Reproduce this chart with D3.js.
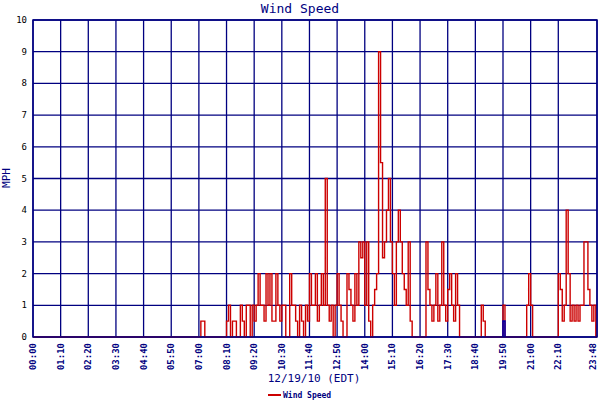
<!DOCTYPE html>
<html><head><meta charset="utf-8">
<script src="https://cdn.jsdelivr.net/npm/d3@7"></script>
<style>body{margin:0;background:#fff}text{font-family:"DejaVu Sans Mono",monospace}</style>
</head><body><svg id="c" width="600" height="400"></svg>
<script>
// 5-minute samples by hour (hours 0-6 all zero)
const startHour = 7;
const windByHour = [
 [0,0.5,0.5,0,0,0,0,0,0,0,0,0],            // 07
 [0,0,0.5,1,0,0.5,0.5,0,0,1,0.5,0],        // 08
 [1,1,0,1,0.5,1,2,1,1,0.5,2,1],            // 09
 [2,0.5,0.5,2,1,0.5,1,1,0,0,2,1],          // 10
 [1,0.5,0,1,0.5,0,1,0.5,2,1,1,2],          // 11
 [0.5,1,2,1,5,1,0.5,1,0,1,2,1],            // 12
 [0.5,0,0,2,1.5,1,0.5,2,1,3,2.5,3],        // 13
 [1,3,0.5,0,1,1.5,2,9,5.5,2.5,3,4],        // 14
 [5,3,2,1,3,4,3,2,1.5,1,3,0.5],            // 15
 [0,0,0,0,0,0,0,3,1.5,1,0.5,1],            // 16
 [2,0.5,1,3,1,0.5,1.5,2,1,0.5,2,1],        // 17
 [0,0,0,0,0,0,0,0,0,0,0,1],                // 18
 [0.5,0,0,0,0,0,0,0,0,0,1,0],              // 19
 [0,0,0,0,0,0,0,0,0,0,1,2],                // 20
 [1,0,0,0,0,0,0,0,0,0,0,0],                // 21
 [0,0,2,1.5,0.5,1,4,2,0.5,1,0.5,1],        // 22
 [0.5,1,1,3,3,1.5,1,0.5,1,0]               // 23
];
const blueTimes = [1190,1195];
const blueValues = [0.5,0];
const endMinute = 1428;
const xTicks = [0,70,140,210,280,350,420,490,560,630,700,770,840,910,980,1050,1120,1190,1260,1330,1428];
const yTicks = [0,1,2,3,4,5,6,7,8,9,10];

const wind = [{m:0,v:0}];
windByHour.forEach((arr,i)=>arr.forEach((v,j)=>wind.push({m:(startHour+i)*60+j*5,v})));
wind.push({m:endMinute,v:0});

const svg = d3.select("#c");
const L=33,R=597,T=20,B=337;
const x = d3.scaleLinear().domain([0,endMinute]).range([L,R]);
const y = d3.scaleLinear().domain([0,10]).range([B,T]);
const navy="#000080";

svg.append("text").attr("x",300).attr("y",13).attr("text-anchor","middle")
  .attr("fill",navy).attr("font-size",13).text("Wind Speed");

svg.append("g").selectAll("line").data(yTicks).join("line")
 .attr("x1",L).attr("x2",R).attr("y1",d=>y(d)).attr("y2",d=>y(d)).attr("stroke",navy).attr("stroke-width",1.3);
svg.append("g").selectAll("line").data(xTicks).join("line")
 .attr("x1",d=>x(d)).attr("x2",d=>x(d)).attr("y1",T).attr("y2",B).attr("stroke",navy).attr("stroke-width",1.3);

const line = d3.line().x(d=>x(d.m)).y(d=>y(d.v)).curve(d3.curveStepAfter);
svg.append("path").datum(wind).attr("d",line).attr("fill","none").attr("stroke","#cc0000").attr("stroke-width",1.4);
const blue = blueTimes.map((m,i)=>({m,v:blueValues[i]}));
svg.append("path").datum([{m:blueTimes[0],v:0},...blue]).attr("d",line).attr("fill","none").attr("stroke","#0000aa").attr("stroke-width",1.6);

svg.append("rect").attr("x",L).attr("y",T).attr("width",R-L).attr("height",B-T).attr("fill","none").attr("stroke",navy).attr("stroke-width",1.5);

svg.append("g").selectAll("text").data(yTicks).join("text")
 .attr("x",27).attr("y",d=>y(d)+3).attr("text-anchor","end").attr("font-size",9).attr("fill","#000").text(d=>d);
const fmt = m=>String(Math.floor(m/60)).padStart(2,"0")+":"+String(m%60).padStart(2,"0");
svg.append("g").selectAll("text").data(xTicks).join("text")
 .attr("transform",d=>`translate(${Math.min(x(d)+3,596)},343) rotate(-90)`).attr("text-anchor","end")
 .attr("font-size",9).attr("font-weight","bold").attr("fill",navy).text(fmt);

svg.append("text").attr("transform","translate(10,178) rotate(-90)").attr("text-anchor","middle")
 .attr("font-size",11).attr("fill",navy).text("MPH");
svg.append("text").attr("x",314).attr("y",382).attr("text-anchor","middle")
 .attr("font-size",11).attr("fill",navy).text("12/19/10 (EDT)");
svg.append("line").attr("x1",268).attr("x2",281).attr("y1",395).attr("y2",395).attr("stroke","#cc0000").attr("stroke-width",2);
svg.append("text").attr("x",283).attr("y",398).attr("font-size",8).attr("font-weight","bold").attr("fill",navy).text("Wind Speed");
</script></body></html>
